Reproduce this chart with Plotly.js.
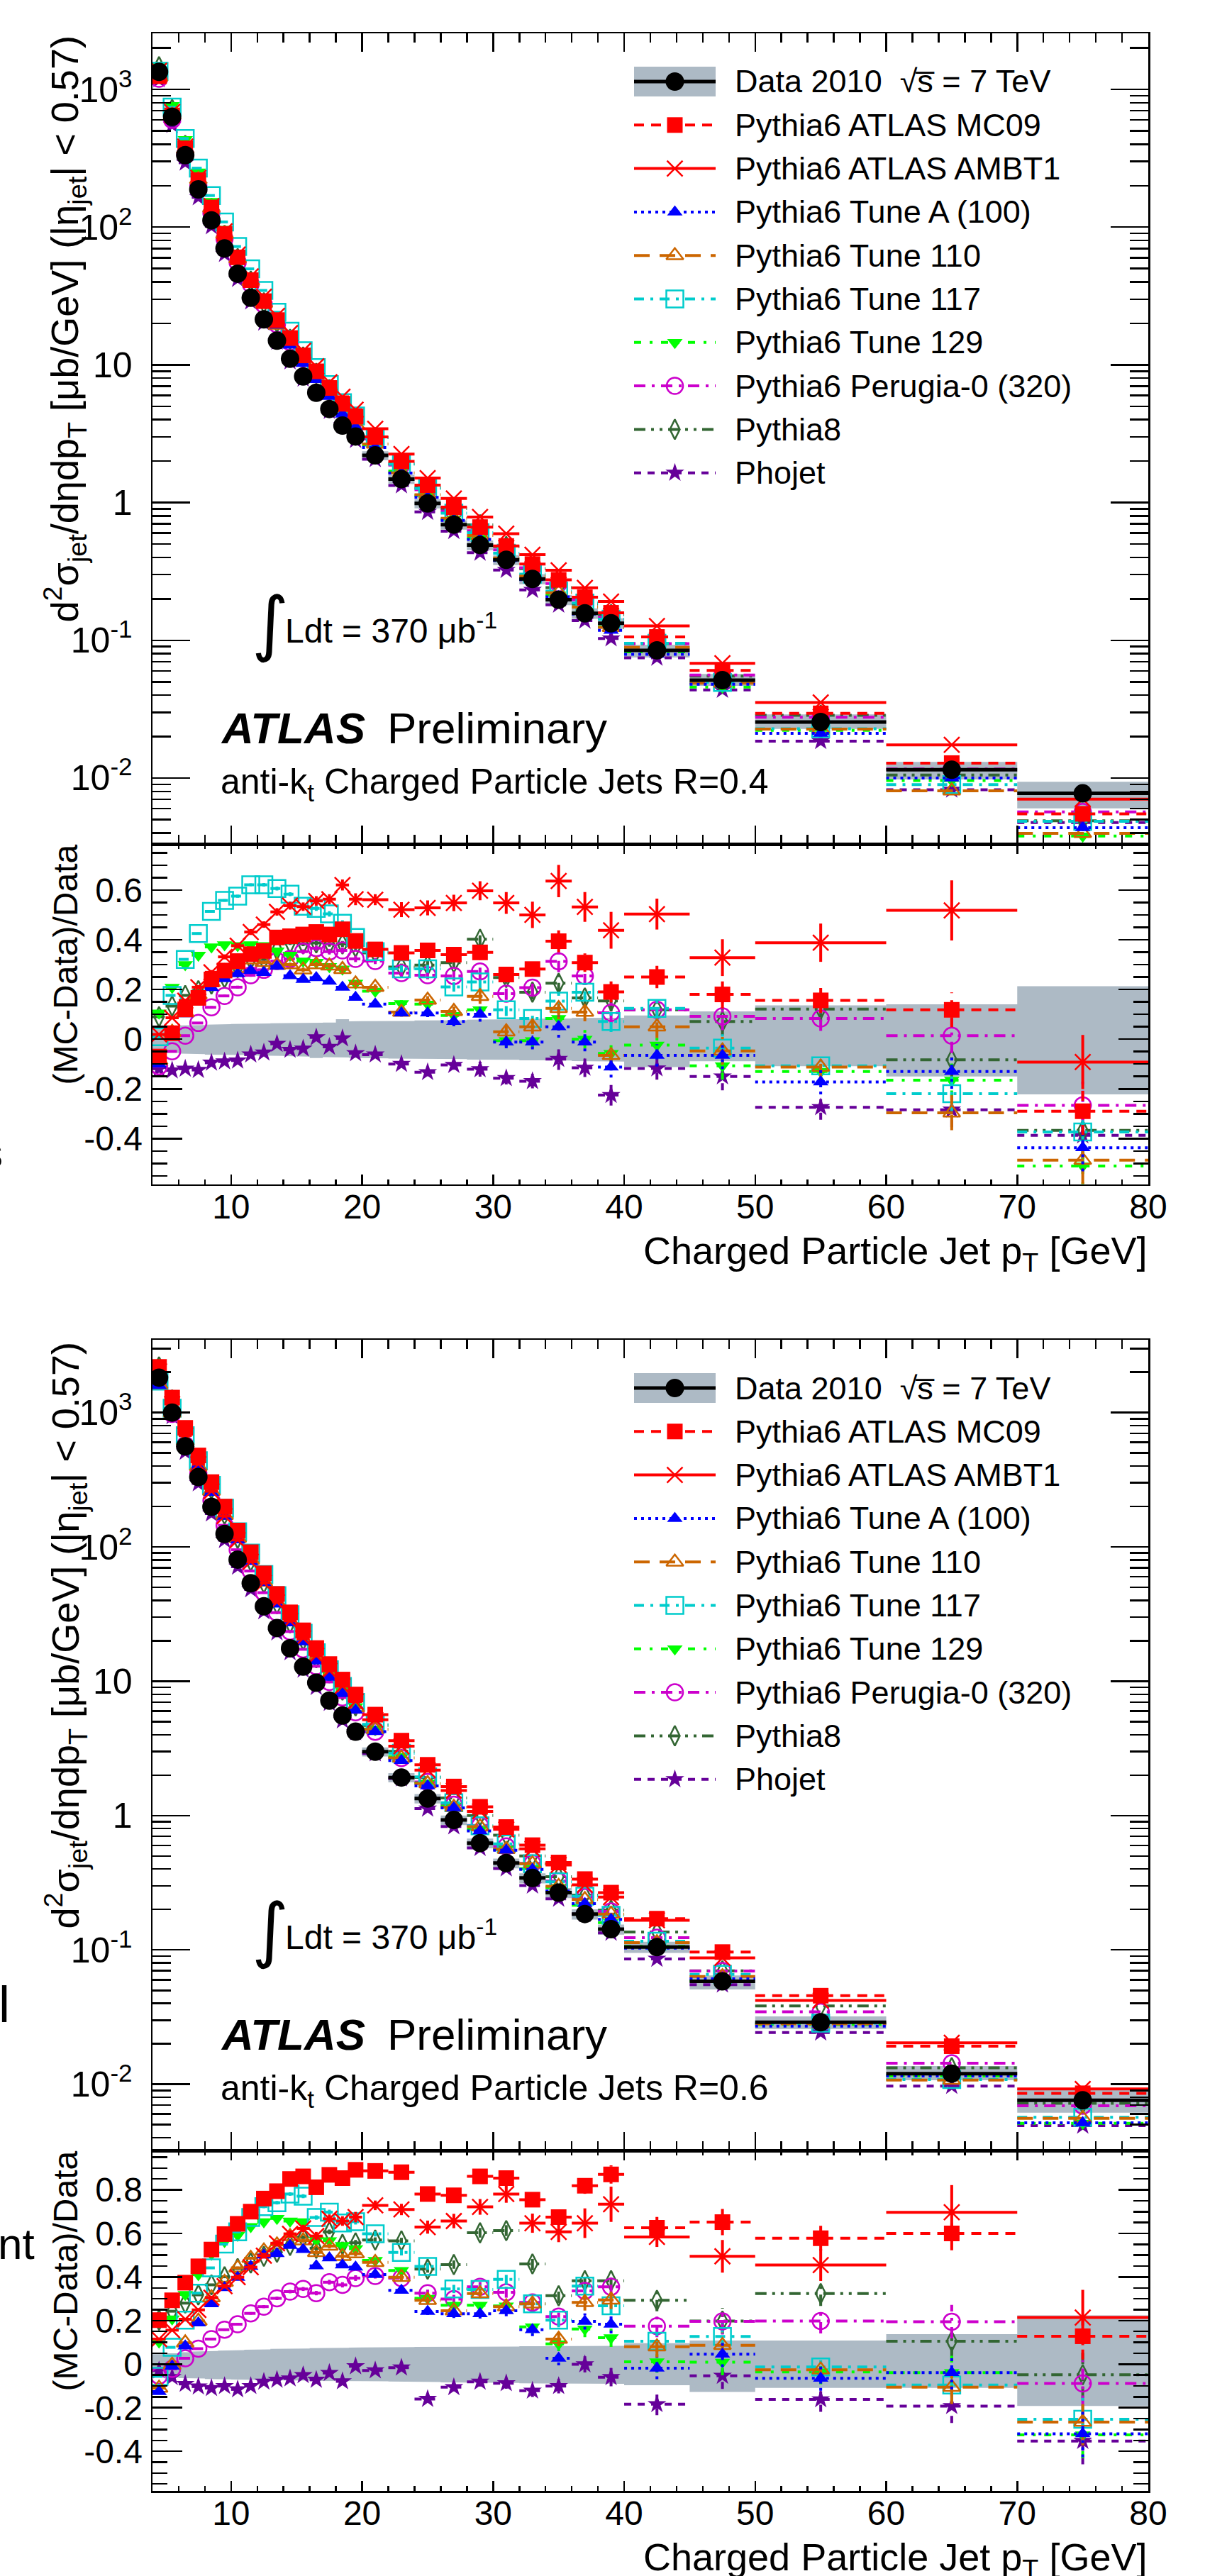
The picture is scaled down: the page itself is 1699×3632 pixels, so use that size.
<!DOCTYPE html>
<html><head><meta charset="utf-8">
<script src="https://cdn.plot.ly/plotly-3.0.1.min.js"></script>
<style>html,body{margin:0;padding:0;background:#fff}#plot{width:1699px;height:3632px}</style>
</head><body><div id="plot"></div>
<script>
// ---------------- DATA ----------------
const binEdges = [4,5,6,7,8,9,10,11,12,13,14,15,16,17,18,19,20,22,24,26,28,30,32,34,36,38,40,45,50,60,70,80];

// anti-kt R=0.4
const data04 = [1340,632,333,188,112,70,45.9,30.7,21.4,15.0,11.07,8.24,6.27,4.78,3.62,3.02,2.2,1.48,0.986,0.692,0.492,0.384,0.279,0.197,0.157,0.133,0.0846,0.0513,0.0255,0.01148,0.00774];
const bandHi04 = [0.052,0.053,0.055,0.057,0.058,0.06,0.061,0.062,0.063,0.064,0.065,0.066,0.066,0.067,0.08,0.072,0.072,0.073,0.075,0.076,0.078,0.08,0.082,0.083,0.085,0.086,0.095,0.112,0.136,0.14,0.213];
const bandLo04 = [-0.052,-0.055,-0.058,-0.06,-0.062,-0.063,-0.064,-0.065,-0.066,-0.067,-0.068,-0.07,-0.076,-0.072,-0.074,-0.075,-0.077,-0.078,-0.079,-0.08,-0.082,-0.083,-0.085,-0.086,-0.088,-0.09,-0.112,-0.089,-0.109,-0.15,-0.222];
const mc09_04 = [-0.07,0.024,0.12,0.166,0.24,0.276,0.314,0.342,0.355,0.409,0.414,0.421,0.431,0.421,0.442,0.395,0.361,0.347,0.357,0.34,0.349,0.26,0.282,0.394,0.308,0.19,0.25,0.18,0.156,0.118,-0.29];
const ambt1_04 = [0.019,0.086,0.155,0.209,0.269,0.331,0.376,0.431,0.461,0.512,0.537,0.533,0.556,0.563,0.62,0.563,0.561,0.521,0.528,0.548,0.597,0.548,0.5,0.636,0.532,0.438,0.503,0.328,0.388,0.518,-0.092];
const tuneA_04 = [-0.1,0.014,0.102,0.152,0.207,0.243,0.263,0.276,0.268,0.293,0.255,0.24,0.247,0.233,0.209,0.168,0.141,0.105,0.105,0.071,0.1,-0.012,-0.012,0.05,-0.012,-0.112,-0.065,-0.065,-0.172,-0.13,-0.437];
const t110_04 = [-0.085,0.028,0.107,0.179,0.228,0.271,0.285,0.319,0.309,0.298,0.3,0.279,0.3,0.295,0.281,0.223,0.209,0.109,0.157,0.112,0.172,0.03,0.05,0.124,0.109,-0.065,0.05,-0.047,-0.112,-0.296,-0.487];
const t117_04 = [0.01,0.176,0.321,0.425,0.514,0.558,0.575,0.621,0.621,0.606,0.583,0.535,0.526,0.504,0.466,0.409,0.352,0.283,0.283,0.21,0.23,0.118,0.083,0.153,0.189,0.071,0.124,-0.036,-0.107,-0.219,-0.373];
const t129_04 = [0.105,0.209,0.3,0.338,0.371,0.38,0.376,0.38,0.376,0.355,0.338,0.314,0.309,0.292,0.282,0.225,0.193,0.143,0.141,0.095,0.118,-0.006,-0.006,0.083,0.0,-0.057,-0.024,-0.107,-0.13,-0.165,-0.51];
const perugia_04 = [-0.109,-0.049,0.014,0.065,0.128,0.174,0.209,0.257,0.279,0.314,0.323,0.352,0.366,0.352,0.357,0.323,0.314,0.266,0.257,0.254,0.272,0.183,0.207,0.313,0.254,0.106,0.118,0.092,0.083,0.014,-0.266];
const py8_04 = [0.09,0.133,0.176,0.195,0.222,0.247,0.288,0.321,0.321,0.36,0.387,0.383,0.387,0.383,0.383,0.371,0.347,0.29,0.298,0.308,0.402,0.248,0.189,0.225,0.166,0.154,0.118,0.071,0.121,-0.083,-0.367];
const phojet_04 = [-0.119,-0.126,-0.119,-0.124,-0.095,-0.09,-0.086,-0.062,-0.054,-0.019,-0.043,-0.038,0.007,-0.031,0.003,-0.057,-0.062,-0.1,-0.133,-0.104,-0.121,-0.157,-0.169,-0.08,-0.115,-0.225,-0.118,-0.15,-0.274,-0.284,-0.387];
const mcErr04 = [0.003,0.003,0.004,0.004,0.005,0.005,0.006,0.006,0.007,0.008,0.008,0.009,0.01,0.011,0.012,0.013,0.012,0.014,0.016,0.019,0.03,0.025,0.029,0.044,0.037,0.042,0.045,0.056,0.05,0.07,0.095];
const ambtErr04 = [0.005,0.006,0.007,0.008,0.009,0.01,0.011,0.012,0.013,0.015,0.016,0.017,0.019,0.02,0.022,0.024,0.022,0.03,0.03,0.033,0.038,0.044,0.053,0.065,0.06,0.074,0.062,0.074,0.077,0.121,0.109];

// anti-kt R=0.6
const data06 = [1820,1000,560,331,199,125,80.5,53.7,36.1,24.9,17.6,12.85,9.75,7.18,5.55,4.21,2.99,1.92,1.34,0.927,0.624,0.443,0.343,0.267,0.185,0.1426,0.105,0.0583,0.0289,0.0120,0.00759];
const bandHi06 = [0.046,0.05,0.055,0.058,0.06,0.062,0.064,0.066,0.068,0.07,0.071,0.072,0.073,0.074,0.075,0.076,0.077,0.078,0.079,0.08,0.08,0.081,0.082,0.083,0.083,0.084,0.096,0.108,0.108,0.138,0.224];
const bandLo06 = [-0.06,-0.062,-0.064,-0.066,-0.068,-0.07,-0.071,-0.072,-0.073,-0.074,-0.075,-0.076,-0.077,-0.077,-0.078,-0.078,-0.079,-0.08,-0.082,-0.084,-0.085,-0.086,-0.088,-0.09,-0.09,-0.09,-0.097,-0.128,-0.109,-0.109,-0.192];
const mc09_06 = [0.202,0.293,0.374,0.449,0.526,0.597,0.644,0.7,0.76,0.794,0.85,0.862,0.812,0.869,0.854,0.892,0.887,0.881,0.781,0.775,0.862,0.854,0.755,0.675,0.819,0.871,0.626,0.652,0.578,0.6,0.128];
const ambt1_06 = [0.115,0.156,0.206,0.249,0.305,0.358,0.399,0.445,0.498,0.555,0.598,0.623,0.588,0.667,0.657,0.675,0.729,0.71,0.629,0.657,0.722,0.781,0.647,0.607,0.647,0.734,0.584,0.495,0.455,0.697,0.214];
const tuneA_06 = [-0.126,-0.01,0.083,0.189,0.277,0.351,0.398,0.449,0.501,0.507,0.545,0.526,0.451,0.488,0.455,0.445,0.411,0.339,0.242,0.231,0.231,0.245,0.158,0.027,0.196,0.183,-0.019,0.046,-0.065,-0.039,-0.32];
const t110_06 = [-0.11,-0.004,0.098,0.198,0.305,0.376,0.442,0.486,0.52,0.548,0.586,0.567,0.513,0.542,0.495,0.507,0.467,0.399,0.293,0.245,0.324,0.264,0.277,0.115,0.283,0.295,0.08,0.086,-0.026,-0.106,-0.266];
const t117_06 = [-0.056,0.077,0.202,0.326,0.442,0.551,0.607,0.673,0.723,0.741,0.781,0.771,0.673,0.698,0.648,0.654,0.598,0.513,0.449,0.345,0.343,0.389,0.277,0.202,0.358,0.268,0.105,0.127,-0.013,-0.096,-0.253];
const t129_06 = [0.102,0.208,0.32,0.411,0.505,0.563,0.592,0.632,0.654,0.669,0.657,0.654,0.569,0.567,0.545,0.53,0.476,0.43,0.302,0.27,0.27,0.267,0.171,0.093,0.161,0.121,0.011,0.009,-0.036,-0.039,-0.325];
const perugia_06 = [-0.054,-0.022,0.027,0.071,0.115,0.158,0.183,0.233,0.264,0.302,0.333,0.345,0.326,0.376,0.364,0.395,0.405,0.395,0.326,0.299,0.355,0.33,0.283,0.218,0.336,0.355,0.174,0.196,0.198,0.195,-0.089];
const py8_06 = [0.202,0.243,0.28,0.318,0.364,0.401,0.439,0.464,0.495,0.514,0.545,0.582,0.532,0.607,0.55,0.557,0.57,0.566,0.436,0.457,0.603,0.613,0.46,0.314,0.383,0.383,0.293,0.198,0.324,0.105,-0.049];
const phojet_06 = [-0.029,-0.06,-0.091,-0.103,-0.11,-0.101,-0.116,-0.101,-0.081,-0.072,-0.066,-0.051,-0.072,-0.041,-0.079,-0.01,-0.029,-0.016,-0.16,-0.106,-0.081,-0.088,-0.122,-0.101,-0.001,-0.06,-0.184,-0.054,-0.162,-0.193,-0.353];
const mcErr06 = [0.003,0.003,0.004,0.004,0.005,0.005,0.006,0.006,0.007,0.008,0.008,0.009,0.01,0.011,0.012,0.013,0.012,0.014,0.016,0.019,0.022,0.025,0.029,0.033,0.037,0.042,0.05,0.06,0.057,0.077,0.107];
const ambtErr06 = [0.005,0.006,0.007,0.008,0.009,0.01,0.011,0.012,0.013,0.015,0.016,0.017,0.019,0.02,0.022,0.024,0.022,0.026,0.03,0.033,0.036,0.04,0.044,0.047,0.068,0.081,0.046,0.075,0.073,0.125,0.127];

// tick labels
const xTickVals = [10,20,30,40,50,60,70,80];
const xTickText = ['10','20','30','40','50','60','70','80'];
const yLogTickVals = [0.01,0.1,1,10,100,1000];
const yLogTickText = ['10<sup>-2</sup>','10<sup>-1</sup>','1','10','10<sup>2</sup>','10<sup>3</sup>'];
const yRatioTickVals = [-0.4,-0.2,0,0.2,0.4,0.6,0.8];
const yRatioTickText = ['-0.4','-0.2','0','0.2','0.4','0.6','0.8'];

// ---------------- STYLE ----------------
const W = 1699, H = 3632;
const FONT = 'Liberation Sans, Arial, Helvetica, sans-serif';
const X0 = 215, X1 = 1619;
const sty = {
  mc09:   {name:'Pythia6 ATLAS MC09',      color:'#ff0000', dash:'14px,10px', symbol:'square', size:22},
  ambt1:  {name:'Pythia6 ATLAS AMBT1',     color:'#ff0000', dash:'solid', symbol:'x-thin-open', size:22, open:true, lw:2.5},
  tuneA:  {name:'Pythia6 Tune A (100)',    color:'#0000ff', dash:'4px,6px', symbol:'triangle-up', size:19},
  t110:   {name:'Pythia6 Tune 110',        color:'#cc6600', dash:'22px,14px', symbol:'triangle-up-open', size:21, open:true, lw:2.5},
  t117:   {name:'Pythia6 Tune 117',        color:'#00cccc', dash:'14px,9px,4px,9px', symbol:'square-open', size:24, open:true, lw:2.5},
  t129:   {name:'Pythia6 Tune 129',        color:'#00ff00', dash:'10px,12px,4px,12px', symbol:'triangle-down', size:19},
  perugia:{name:'Pythia6 Perugia-0 (320)', color:'#cc00cc', dash:'16px,9px,4px,9px', symbol:'circle-open', size:23, open:true, lw:2.5},
  py8:    {name:'Pythia8',                 color:'#336633', dash:'16px,8px,4px,8px,4px,8px', symbol:'diamond-tall-open', size:20, open:true, lw:2.5},
  phojet: {name:'Phojet',                  color:'#660099', dash:'10px,9px', symbol:'star', size:20}
};
const drawOrder = ['phojet','py8','perugia','t129','t117','t110','tuneA','ambt1','mc09'];
const legendOrder = ['mc09','ambt1','tuneA','t110','t117','t129','perugia','py8','phojet'];
const BAND = '#adbac5';

const panels = [
  {off:0, main:[47,1190], ratio:[1190,1669.5], mainRange:[-2.479,3.407], ratioRange:[-0.583,0.785], R:'0.4',
   data:data04, bandHi:bandHi04, bandLo:bandLo04, err:mcErr04, ambtErr:ambtErr04,
   mc:{mc09:mc09_04, ambt1:ambt1_04, tuneA:tuneA_04, t110:t110_04, t117:t117_04, t129:t129_04, perugia:perugia_04, py8:py8_04, phojet:phojet_04},
   ax:{xm:'x', ym:'y', xr:'x2', yr:'y2', xmk:'xaxis', ymk:'yaxis', xrk:'xaxis2', yrk:'yaxis2'}},
  {off:1842, main:[1889,3032], ratio:[3032,3512], mainRange:[-2.493,3.542], ratioRange:[-0.582,0.981], R:'0.6',
   data:data06, bandHi:bandHi06, bandLo:bandLo06, err:mcErr06, ambtErr:ambtErr06,
   mc:{mc09:mc09_06, ambt1:ambt1_06, tuneA:tuneA_06, t110:t110_06, t117:t117_06, t129:t129_06, perugia:perugia_06, py8:py8_06, phojet:phojet_06},
   ax:{xm:'x3', ym:'y3', xr:'x4', yr:'y4', xmk:'xaxis3', ymk:'yaxis3', xrk:'xaxis4', yrk:'yaxis4'}}
];

// ---------------- HELPERS ----------------
const lo = binEdges.slice(0,-1), hi = binEdges.slice(1);
const ctr = lo.map((l,i)=>(l+hi[i])/2);
function hsegs(vals){ const x=[],y=[]; vals.forEach((v,i)=>{x.push(lo[i],hi[i],null); y.push(v,v,null);}); return {x,y}; }
function hvsegs(vals,errs){ const s=hsegs(vals); vals.forEach((v,i)=>{s.x.push(ctr[i],ctr[i],null); s.y.push(v-errs[i],v+errs[i],null);}); return s; }
function stepBand(low,high){ const x=[],y=[];
  for(let i=0;i<low.length;i++){x.push(lo[i],hi[i]); y.push(high[i],high[i]);}
  for(let i=low.length-1;i>=0;i--){x.push(hi[i],lo[i]); y.push(low[i],low[i]);}
  x.push(x[0]); y.push(y[0]); return {x,y}; }
function mk(s){ return {symbol:s.symbol, size:s.size, color:s.color, line:{width:s.open?(s.lw||2.5):0, color:s.color}}; }
const yd = (t,b)=>[1-b/H, 1-t/H];

const traces = [];
const layout = {width:W, height:H, margin:{l:0,r:0,t:0,b:0,pad:0}, paper_bgcolor:'#ffffff', plot_bgcolor:'rgba(0,0,0,0)',
  showlegend:false, font:{family:FONT, color:'#000'}, annotations:[], shapes:[], hovermode:false};

const minorX = []; for(let v=6; v<80; v+=2){ if(v%10!==0) minorX.push(v); }
const minorLog = []; for(let k=-3;k<=3;k++){ for(let m=2;m<=9;m++){ minorLog.push(m*Math.pow(10,k)); } }

function xaxis(anchor, labels, tl, ml){
  return {domain:[X0/W, X1/W], range:[4,80], anchor, showline:true, linecolor:'#000', linewidth:2.5, mirror:'ticks',
    ticks:'inside', ticklen:tl, tickwidth:2.5, tickcolor:'#000', tickmode:'array', tickvals:xTickVals, ticktext:xTickText,
    showticklabels:labels, tickfont:{family:FONT, size:48, color:'#000'}, ticklabelstandoff:-12,
    minor:{tickmode:'array', tickvals:minorX, ticks:'inside', ticklen:ml, tickwidth:2.5, tickcolor:'#000'},
    showgrid:false, zeroline:false, fixedrange:true};
}

function ann(text, x, y, size, xa, ya, extra){
  layout.annotations.push(Object.assign({text, x:x/W, y:1-y/H, xref:'paper', yref:'paper', xanchor:xa, yanchor:ya,
    showarrow:false, font:{family:FONT, size, color:'#000'}, borderpad:0}, extra||{}));
}
function annB(text, x, base, size, xa, extra){ ann(text, x, base-0.33*size, size, xa, 'middle', extra); }

// fragments of neighbouring page text cut by the image edge
ann('l', 3, 26, 72, 'right', 'middle');
ann('s', 5, 1625, 60, 'right', 'middle');
ann('l', 15, 2826, 72, 'right', 'middle');
ann('nt', 50, 3163, 62, 'right', 'middle');

// ---------------- BUILD ----------------
panels.forEach(P=>{
  const A = P.ax, o = P.off;
  layout[A.xmk] = xaxis(A.ym, false, 26, 13);
  layout[A.ymk] = {domain:yd(P.main[0],P.main[1]), type:'log', range:P.mainRange, anchor:A.xm, showline:true, linecolor:'#000', linewidth:2.5,
    mirror:'ticks', ticks:'inside', ticklen:53, tickwidth:2.5, tickcolor:'#000', tickmode:'array', tickvals:yLogTickVals, ticktext:yLogTickText,
    tickfont:{family:FONT, size:50, color:'#000'}, ticklabelstandoff:16,
    minor:{tickmode:'array', tickvals:minorLog, ticks:'inside', ticklen:26, tickwidth:2.5, tickcolor:'#000'},
    showgrid:false, zeroline:false, fixedrange:true};
  layout[A.xrk] = xaxis(A.yr, true, 14, 7);
  layout[A.yrk] = {domain:yd(P.ratio[0],P.ratio[1]), range:P.ratioRange, anchor:A.xr, showline:true, linecolor:'#000', linewidth:2.5,
    mirror:'ticks', ticks:'inside', ticklen:42, tickwidth:2.5, tickcolor:'#000', tickmode:'array', tickvals:yRatioTickVals, ticktext:yRatioTickText,
    tickfont:{family:FONT, size:48, color:'#000'}, ticklabelstandoff:2,
    minor:{tick0:0, dtick:0.05, ticks:'inside', ticklen:21, tickwidth:2.5, tickcolor:'#000'},
    showgrid:false, zeroline:false, fixedrange:true};

  // bands
  const bm = stepBand(P.data.map((d,i)=>d*(1+P.bandLo[i])), P.data.map((d,i)=>d*(1+P.bandHi[i])));
  traces.push({type:'scatter', mode:'lines', x:bm.x, y:bm.y, xaxis:A.xm, yaxis:A.ym, fill:'toself', fillcolor:BAND, line:{width:0}, hoverinfo:'skip'});
  const br = stepBand(P.bandLo, P.bandHi);
  traces.push({type:'scatter', mode:'lines', x:br.x, y:br.y, xaxis:A.xr, yaxis:A.yr, fill:'toself', fillcolor:BAND, line:{width:0}, hoverinfo:'skip'});

  drawOrder.forEach(k=>{
    const s = sty[k], r = P.mc[k];
    const errs = (k==='ambt1') ? P.ambtErr : P.err;
    const mv = P.data.map((d,i)=>d*(1+r[i]));
    const hm = hsegs(mv);
    traces.push({type:'scatter', mode:'lines', x:hm.x, y:hm.y, xaxis:A.xm, yaxis:A.ym, line:{color:s.color, width:4, dash:s.dash}, connectgaps:false});
    traces.push({type:'scatter', mode:'markers', x:ctr, y:mv, xaxis:A.xm, yaxis:A.ym, marker:mk(s)});
    const hr = hvsegs(r, errs);
    traces.push({type:'scatter', mode:'lines', x:hr.x, y:hr.y, xaxis:A.xr, yaxis:A.yr, line:{color:s.color, width:4, dash:s.dash}, connectgaps:false});
    traces.push({type:'scatter', mode:'markers', x:ctr, y:r, xaxis:A.xr, yaxis:A.yr, marker:mk(s)});
  });
  // data
  const hd = hsegs(P.data);
  traces.push({type:'scatter', mode:'lines', x:hd.x, y:hd.y, xaxis:A.xm, yaxis:A.ym, line:{color:'#000', width:5}, connectgaps:false});
  traces.push({type:'scatter', mode:'markers', x:ctr, y:P.data, xaxis:A.xm, yaxis:A.ym, marker:{symbol:'circle', size:26, color:'#000'}});

  // texts
  ann('d<sup>2</sup>σ<sub>jet</sub>/dηdp<sub>T</sub> [μb/GeV] (|η<sub>jet</sub>| &lt; 0.57)', 92, 50+o, 54, 'center', 'top', {textangle:-90});
  ann('(MC-Data)/Data', 92, P.ratio[0], 48, 'center', 'top', {textangle:-90});
  annB('Charged Particle Jet p<sub>T</sub> [GeV]', 1618, 1785+o, 54, 'right');
  annB('<b><i>ATLAS</i></b>', 310, 1047+o, 62, 'left');
  annB('Preliminary', 545, 1047+o, 62, 'left');
  annB('anti-k<sub>t</sub> Charged Particle Jets R='+P.R, 310, 1122+o, 50, 'left');
  ann('∫', 381, 878+o, 100, 'center', 'middle', {font:{family:'DejaVu Sans', size:100, color:'#000'}});
  annB('Ldt = 370 μb<sup>-1</sup>', 401, 902+o, 48, 'left');

  // legend (manual, layout positions)
  const LX0 = 894, LX1 = 1009, LXM = 951.5, LT = 1035, LY0 = 115+o, LDY = 61.3;
  traces.push({type:'scatter', mode:'lines', x:[LX0,LX1,LX1,LX0,LX0], y:[LY0-21,LY0-21,LY0+21,LY0+21,LY0-21], xaxis:'x5', yaxis:'y5', fill:'toself', fillcolor:BAND, line:{width:0}});
  traces.push({type:'scatter', mode:'lines', x:[LX0,LX1], y:[LY0,LY0], xaxis:'x5', yaxis:'y5', line:{color:'#000', width:5}});
  traces.push({type:'scatter', mode:'markers', x:[LXM], y:[LY0], xaxis:'x5', yaxis:'y5', marker:{symbol:'circle', size:26, color:'#000'}});
  ann('Data 2010\u00a0\u00a0√s\u0305 = 7 TeV', LT, LY0, 45, 'left', 'middle');
  legendOrder.forEach((k,j)=>{
    const s = sty[k], yy = LY0 + (j+1)*LDY;
    traces.push({type:'scatter', mode:'lines', x:[LX0,LX1], y:[yy,yy], xaxis:'x5', yaxis:'y5', line:{color:s.color, width:4, dash:s.dash}});
    traces.push({type:'scatter', mode:'markers', x:[LXM], y:[yy], xaxis:'x5', yaxis:'y5', marker:mk(s)});
    ann(s.name, LT, yy, 45, 'left', 'middle');
  });
});

layout.xaxis5 = {domain:[0,1], range:[0,W], anchor:'y5', visible:false, fixedrange:true};
layout.yaxis5 = {domain:[0,1], range:[H,0], anchor:'x5', visible:false, fixedrange:true};

Plotly.newPlot('plot', traces, layout, {staticPlot:true, displayModeBar:false});
</script>
</body></html>
